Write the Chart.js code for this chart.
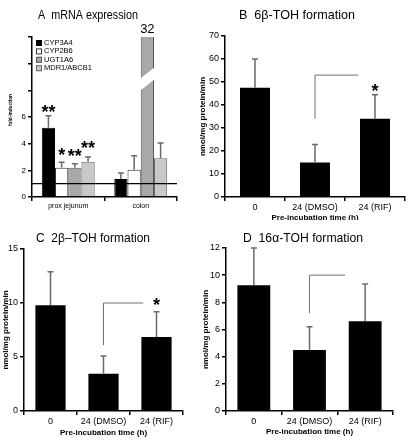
<!DOCTYPE html>
<html>
<head>
<meta charset="utf-8">
<script src="https://cdn.jsdelivr.net/npm/chart.js@4"></script>
<style>
body { margin: 0; background: #fff; }
#wrap { position: relative; width: 411px; height: 440px; }
canvas { position: absolute; }
</style>
</head>
<body>
<div id="wrap">
  <canvas id="chartA" width="196" height="220" style="left:0;top:0"></canvas>
  <canvas id="chartB" width="215" height="220" style="left:196px;top:0"></canvas>
  <canvas id="chartC" width="196" height="220" style="left:0;top:220px"></canvas>
  <canvas id="chartD" width="215" height="220" style="left:196px;top:220px"></canvas>
</div>
<script>
const FONT = '"Liberation Sans", Arial, sans-serif';

// Panel A - mRNA expression (fold induction)
const tissues = ['prox jejunum', 'colon'];
const genes = ['CYP3A4', 'CYP2B6', 'UGT1A6', 'MDR1/ABCB1'];
const cyp3a4 = [5.2, 1.35];
const cyp3a4Err = [6.1, 1.8];
const cyp2b6 = [2.2, 2.05];
const cyp2b6Err = [2.6, 3.1];
const ugt1a6 = [2.2, 32];
const ugt1a6Err = [2.5, null];
const mdr1 = [2.65, 2.9];
const mdr1Err = [3.0, 4.05];
const starsA = ['**', '*', '**', '**'];      // over the prox jejunum bars
const starsAPos = [6.7, 3.5, 3.4, 4.0];

// Panels B-D - metabolite formation
const preinc = ['0', '24 (DMSO)', '24 (RIF)'];
const toh6b = [47.5, 15, 34];
const toh6bErr = [60, 22.8, 44.5];
const toh2b = [9.8, 3.45, 6.85];
const toh2bErr = [12.9, 5.1, 9.2];
const toh16a = [9.25, 4.5, 6.6];
const toh16aErr = [12, 6.2, 9.35];

Chart.defaults.font.family = FONT;
Chart.defaults.color = '#000';
Chart.defaults.animation = false;

function txt(ctx, s, x, y, font, maxW, rot) {
  ctx.save();
  ctx.translate(x, y);
  if (rot) ctx.rotate(rot);
  ctx.font = font;
  ctx.fillStyle = '#000';
  ctx.textAlign = 'center';
  ctx.textBaseline = 'middle';
  if (maxW) ctx.fillText(s, 0, 0, maxW); else ctx.fillText(s, 0, 0);
  ctx.restore();
}

function star(ctx, s, x, y) {
  const size = 18;
  ctx.save();
  ctx.font = 'bold ' + size + 'px ' + FONT;
  ctx.fillStyle = '#000';
  ctx.textAlign = 'center';
  ctx.textBaseline = 'alphabetic';
  ctx.fillText(s, x, y + size * 0.58);
  ctx.restore();
}

// titles, error bars, brackets, stars etc.
function decor(cfg) {
  return {
    id: 'decor',
    afterDatasetsDraw(chart) {
      const ctx = chart.ctx, xs = chart.scales.x, ys = chart.scales.y, area = chart.chartArea;
      ctx.save();
      if (cfg.cut) {
        const el = chart.getDatasetMeta(cfg.cut.ds).data[cfg.cut.i];
        const l = el.x - el.width / 2 - 2, r = el.x + el.width / 2 + 2;
        ctx.fillStyle = '#fff';
        ctx.beginPath();
        ctx.moveTo(l, ys.getPixelForValue(cfg.cut.v[0]));
        ctx.lineTo(l, ys.getPixelForValue(cfg.cut.v[1]));
        ctx.lineTo(r, ys.getPixelForValue(cfg.cut.v[3]));
        ctx.lineTo(r, ys.getPixelForValue(cfg.cut.v[2]));
        ctx.closePath();
        ctx.fill();
      }
      if (cfg.refLine != null) {
        const py = ys.getPixelForValue(cfg.refLine);
        ctx.strokeStyle = '#000';
        ctx.lineWidth = 1.2;
        ctx.beginPath(); ctx.moveTo(area.left, py); ctx.lineTo(area.right, py); ctx.stroke();
      }
      ctx.strokeStyle = '#6a6a6a';
      ctx.lineWidth = 1.5;
      cfg.errs.forEach((errs, di) => {
        const meta = chart.getDatasetMeta(di);
        errs.forEach((e, i) => {
          if (e == null) return;
          const bar = meta.data[i];
          const top = ys.getPixelForValue(e);
          ctx.beginPath();
          ctx.moveTo(bar.x, bar.y); ctx.lineTo(bar.x, top);
          ctx.moveTo(bar.x - 3, top); ctx.lineTo(bar.x + 3, top);
          ctx.stroke();
        });
      });
      if (cfg.bracket) {
        const b = cfg.bracket;
        const x0 = xs.getPixelForValue(b.from), x1 = xs.getPixelForValue(b.to);
        const y0 = ys.getPixelForValue(b.lo), y1 = ys.getPixelForValue(b.hi);
        ctx.strokeStyle = '#707070';
        ctx.lineWidth = 1;
        ctx.beginPath(); ctx.moveTo(x0, y0); ctx.lineTo(x0, y1); ctx.lineTo(x1, y1); ctx.stroke();
      }
      (cfg.stars || []).forEach(s => {
        const el = chart.getDatasetMeta(s.ds).data[s.i];
        star(ctx, s.text, el.x, ys.getPixelForValue(s.v));
      });
      if (cfg.topLabel) {
        const el = chart.getDatasetMeta(cfg.topLabel.ds).data[cfg.topLabel.i];
        txt(ctx, cfg.topLabel.text, el.x, area.top - 8, '13px ' + FONT);
      }
      if (cfg.legend) {
        chart.data.datasets.forEach((d, k) => {
          const yy = cfg.legend.y + k * cfg.legend.step;
          ctx.fillStyle = d.backgroundColor;
          ctx.strokeStyle = d.borderColor;
          ctx.lineWidth = 1;
          ctx.fillRect(cfg.legend.x, yy - 3, 6, 6);
          ctx.strokeRect(cfg.legend.x + 0.5, yy - 2.5, 5, 5);
          ctx.fillStyle = '#000';
          ctx.font = '7.5px ' + FONT;
          ctx.textAlign = 'left';
          ctx.textBaseline = 'middle';
          ctx.fillText(d.label, cfg.legend.x + 8, yy);
        });
      }
      ctx.restore();
    },
    afterDraw(chart) {
      const ctx = chart.ctx, area = chart.chartArea;
      txt(ctx, cfg.title, cfg.titleX, cfg.titleY, '13px ' + FONT, cfg.titleW);
      const yc = cfg.yTitleY != null ? cfg.yTitleY : (area.top + area.bottom) / 2;
      txt(ctx, cfg.yTitle, cfg.yTitleX, yc, cfg.yTitleFont, cfg.yTitleW, -Math.PI / 2);
      if (cfg.xTitle) txt(ctx, cfg.xTitle, (area.left + area.right) / 2, cfg.xTitleY, 'bold 8px ' + FONT, 88);
    }
  };
}

function axisX(h, size) {
  return {
    grid: { drawOnChartArea: false, drawTicks: true, tickLength: 4, color: '#000', lineWidth: 1.5, offset: true },
    border: { color: '#000', width: 1.5 },
    ticks: { font: { size: size }, padding: 1, maxRotation: 0, autoSkip: false },
    afterFit: s => { s.height = h; }
  };
}

function axisY(w, max, step, size, cb) {
  return {
    min: 0, max: max,
    grid: { drawOnChartArea: false, drawTicks: true, tickLength: 4, color: '#000', lineWidth: 1.5 },
    border: { color: '#000', width: 1.5 },
    ticks: { stepSize: step, font: { size: size }, padding: 2, callback: cb },
    afterFit: s => { s.width = w; }
  };
}

// A
new Chart(document.getElementById('chartA'), {
  type: 'bar',
  data: {
    labels: tissues,
    datasets: [
      { label: genes[0], data: cyp3a4, backgroundColor: '#000', borderColor: '#000', borderWidth: 1 },
      { label: genes[1], data: cyp2b6, backgroundColor: '#fff', borderColor: '#333', borderWidth: 1 },
      { label: genes[2], data: ugt1a6, backgroundColor: '#a8a8a8', borderColor: '#555', borderWidth: 1 },
      { label: genes[3], data: mdr1, backgroundColor: '#c9c9c9', borderColor: '#666', borderWidth: 1 }
    ]
  },
  options: {
    responsive: false,
    layout: { padding: { top: 37, right: 19, left: 0, bottom: 0 } },
    categoryPercentage: 0.73,
    barPercentage: 1,
    plugins: { legend: { display: false }, tooltip: { enabled: false } },
    scales: {
      x: axisX(23, 7),
      y: axisY(32, 12, 2, 8, v => (v <= 6 ? v : ''))
    }
  },
  plugins: [decor({
    title: 'A  mRNA expression', titleX: 88, titleY: 15, titleW: 100,
    yTitle: 'fold-induction', yTitleX: 10, yTitleY: 110, yTitleFont: 'bold 6px ' + FONT, yTitleW: 32,
    errs: [cyp3a4Err, cyp2b6Err, ugt1a6Err, mdr1Err],
    refLine: 1,
    cut: { ds: 2, i: 1, v: [7.9, 8.8, 8.9, 9.8] },
    topLabel: { ds: 2, i: 1, text: String(ugt1a6[1]) },
    stars: starsA.map((s, k) => ({ text: s, ds: k, i: 0, v: starsAPos[k] })),
    legend: { x: 36, y: 43, step: 8.4 }
  })]
});

function metPanel(id, title, titleX, titleW, values, errs, yMax, yStep, pad, yW, xH, barPct, yTitleX, xTitleY, bracket, stars) {
  new Chart(document.getElementById(id), {
    type: 'bar',
    data: { labels: preinc, datasets: [{ data: values, backgroundColor: '#000', borderWidth: 0 }] },
    options: {
      responsive: false,
      layout: { padding: pad },
      categoryPercentage: 1,
      barPercentage: barPct,
      plugins: { legend: { display: false }, tooltip: { enabled: false } },
      scales: { x: axisX(xH, 9), y: axisY(yW, yMax, yStep, 9) }
    },
    plugins: [decor({
      title: title, titleX: titleX, titleY: id === 'chartB' ? 15 : 18, titleW: titleW,
      yTitle: 'nmol/mg protein/min', yTitleX: yTitleX, yTitleFont: 'bold 8px ' + FONT, yTitleW: 92,
      xTitle: 'Pre-incubation time (h)', xTitleY: xTitleY,
      errs: [errs], bracket: bracket, stars: stars
    })]
  });
}

metPanel('chartB', 'B  6\u03b2-TOH formation', 101, 116, toh6b, toh6bErr, 70, 10,
  { top: 36, right: 6, left: 0, bottom: 0 }, 29, 23, 0.5, 7, 218,
  { from: 1, to: 1.72, lo: 34, hi: 53 }, [{ text: '*', ds: 0, i: 2, v: 48 }]);

metPanel('chartC', 'C  2\u03b2\u2013TOH formation', 93, 114, toh2b, toh2bErr, 15, 5,
  { top: 29, right: 13, left: 0, bottom: 0 }, 24, 29, 0.57, 6, 213,
  { from: 1, to: 1.75, lo: 6.1, hi: 10.0 }, [{ text: '*', ds: 0, i: 2, v: 10.2 }]);

metPanel('chartD', 'D  16\u03b1-TOH formation', 107, 120, toh16a, toh16aErr, 12, 2,
  { top: 28, right: 18, left: 0, bottom: 0 }, 30, 29, 0.59, 10, 212,
  { from: 1, to: 1.64, lo: 7.2, hi: 10.0 }, []);
</script>
</body>
</html>
